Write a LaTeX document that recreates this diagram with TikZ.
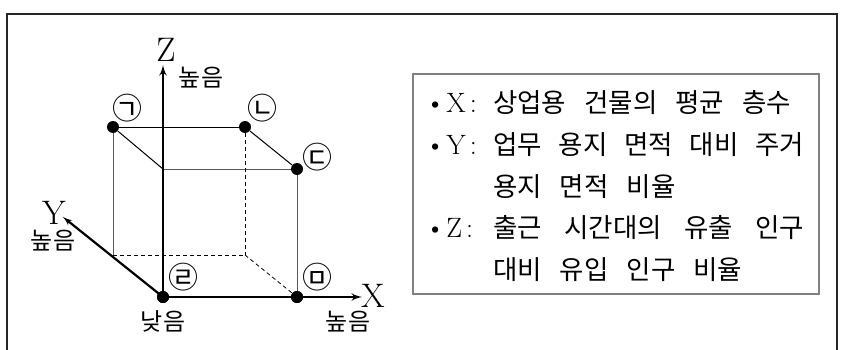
\documentclass[tikz,border=0pt]{standalone}
\usepackage{fontspec}
\usetikzlibrary{arrows}
\newfontfamily\kr{Noto Sans CJK KR}
\newcommand{\krsize}{\kr\fontsize{24}{24}\selectfont}
\newcommand{\axsize}{\fontsize{34}{34}\selectfont}
\newcommand{\boxsize}{\fontsize{26.5}{26.5}\selectfont\spaceskip=18pt plus 10pt minus 3pt}
\newcommand{\lead}[1]{\makebox[68pt][l]{\normalfont\fontsize{28}{28}\selectfont\textbullet\hspace{1pt}#1\hspace{4pt}:}}

\begin{document}
\begin{tikzpicture}[x=1pt,y=-1pt,>=latex',
    dot/.style={circle,fill,inner sep=0pt,minimum size=12pt},
    tag/.style={font=\kr\fontsize{30}{30}\selectfont,inner sep=0pt},
    word/.style={font=\krsize,inner sep=0pt,anchor=base},
    axlabel/.style={font=\axsize,inner sep=0pt,anchor=base},
    axis/.style={line width=2.6pt,->},
    edge/.style={line width=1pt},
    greyedge/.style={line width=1pt,black!65},
    hidden/.style={line width=0.8pt,dashed,dash pattern=on 4pt off 3pt},
    item/.style={anchor=base west,inner sep=0pt,font=\kr\boxsize}]
    \useasboundingbox (0,0) rectangle (842,350);
    \draw[line width=1.8pt,black!85] (7,350) -- (7,14) -- (837,14) -- (837,350);

    % corners of the box
    \node[dot] (R) at (163,297) {};
    \node[dot] (M) at (297,297) {};
    \node[dot] (D) at (297,169) {};
    \node[dot] (N) at (245,127) {};
    \node[dot] (G) at (113,127) {};
    \coordinate (F) at (163,169);
    \coordinate (P) at (113,255);
    \coordinate (Q) at (245,255);
    \coordinate (Xtip) at (362,297);
    \coordinate (Ytip) at (63,217);
    \coordinate (Ztip) at (163,65);

    \draw[edge] (G) -- (N);
    \draw[edge] (G) -- (F);
    \draw[edge] (N) -- (D);
    \draw[greyedge] (F) -- (D);
    \draw[greyedge] (D) -- (M);
    \draw[greyedge] (G) -- (P);
    \draw[hidden] (P) -- (Q);
    \draw[hidden] (N) -- (Q);
    \draw[hidden] (Q) -- (M);

    % axes
    \draw[axis] (R.center) -- (Ztip);
    \draw[axis] (R.center) -- (Xtip);
    \draw[axis,line width=2.2pt] (R.center) -- (Ytip);
    \node[dot] (R2) at (R) {};
    \node[dot] (M2) at (M) {};

    \node[axlabel] (Z) at (166,62) {Z};
    \node[axlabel] (X) at (373,307) {X};
    \node[axlabel] (Y) at (54,224) {Y};
    \node[word] (zhigh) at (201,87) {높음};
    \node[word] (xhigh) at (348,330) {높음};
    \node[word] (yhigh) at (53,249) {높음};
    \node[word] (low) at (163,330) {낮음};

    \node[tag] (tg) at (127,108) {㉠};
    \node[tag] (tn) at (262,108) {㉡};
    \node[tag] (td) at (317,157) {㉢};
    \node[tag] (tr) at (183,277) {㉣};
    \node[tag] (tm) at (317,277) {㉤};

    % legend
    \node[draw=black!50,line width=1.5pt,minimum width=406pt,minimum height=220pt,inner sep=0pt] (legend) at (616,184) {};
    \node[item] (l1) at (425,113) {\lead{X}상업용 건물의 평균 층수};
    \node[item] (l2) at (425,154.5) {\lead{Y}\makebox[311pt][s]{업무 용지 면적 대비 주거}};
    \node[item] (l3) at (425,196) {\hspace*{68pt}용지 면적 비율};
    \node[item] (l4) at (425,237.5) {\lead{Z}\makebox[311pt][s]{출근 시간대의 유출 인구}};
    \node[item] (l5) at (425,279) {\hspace*{68pt}대비 유입 인구 비율};
\end{tikzpicture}
\end{document}
